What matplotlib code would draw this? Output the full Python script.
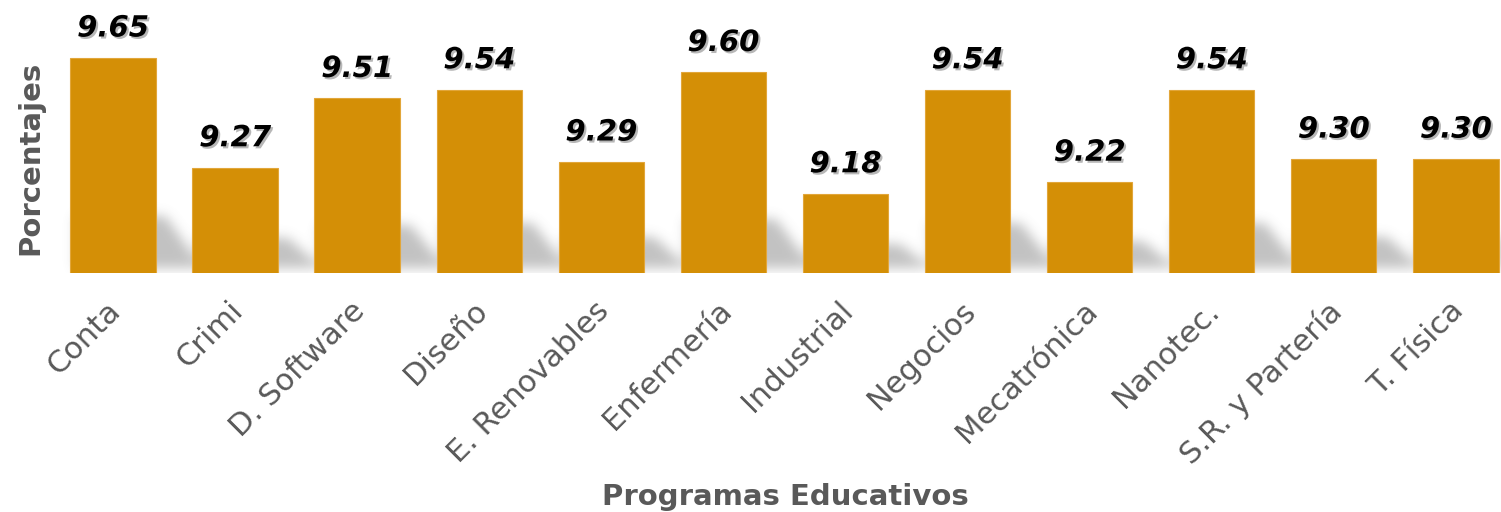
import numpy as np
import matplotlib
matplotlib.use("Agg")
import matplotlib.pyplot as plt
import matplotlib.patheffects as pe
import matplotlib.transforms as mtransforms

# data
programas = ["Conta", "Crimi", "D. Software", "Diseño", "E. Renovables", "Enfermería",
             "Industrial", "Negocios", "Mecatrónica", "Nanotec.", "S.R. y Partería", "T. Física"]
valores = [9.65, 9.27, 9.51, 9.54, 9.29, 9.60, 9.18, 9.54, 9.22, 9.54, 9.30, 9.30]

BAR_COLOR = "#D48F06"
GREY = "#595959"

W_PX, H_PX, DPI = 1501, 512, 100
fig = plt.figure(figsize=(W_PX / DPI, H_PX / DPI), dpi=DPI)

# axes placed in pixel terms
ax_left, ax_right, ax_top, ax_base = 52, 1501, 0, 273
ax = fig.add_axes([ax_left / W_PX, (H_PX - ax_base) / H_PX,
                   (ax_right - ax_left) / W_PX, (ax_base - ax_top) / H_PX])

x = np.arange(len(programas))
xlim = (-0.5, 11.37)
ylim = (8.905, 9.85)
bar_w = 0.70

# soft perspective shadow behind each bar
aw, ah = ax_right - ax_left, ax_base - ax_top
alpha = np.zeros((ah, aw))
px_per_x = aw / (xlim[1] - xlim[0])
px_per_y = ah / (ylim[1] - ylim[0])
for xi, v in zip(x, valores):
    left = (xi - bar_w / 2 - xlim[0]) * px_per_x
    right = (xi + bar_w / 2 - xlim[0]) * px_per_x
    bar_h = (v - ylim[0]) * px_per_y
    hs = 14 + 0.2 * bar_h
    for h in range(5, int(hs)):
        row = ah - 1 - h
        b = int(min(aw, right + 50 * (1 - 0.8 * h / hs)))
        alpha[row, int(left) + 6:b] = 1.0

def blur(arr, sigma):
    k = np.arange(-3 * sigma, 3 * sigma + 1)
    g = np.exp(-k ** 2 / (2 * sigma ** 2))
    g /= g.sum()
    out = np.array([np.convolve(r, g, mode="same") for r in arr])
    out = np.array([np.convolve(c, g, mode="same") for c in out.T]).T
    return out

alpha = blur(alpha, 6) * 0.4
img = np.zeros((ah, aw, 4))
img[..., :3] = 0.4
img[..., 3] = alpha
ax.imshow(img, extent=(xlim[0], xlim[1], ylim[0], ylim[1]), aspect="auto",
          zorder=1, interpolation="bilinear")

ax.bar(x, valores, width=bar_w, bottom=0, color=BAR_COLOR,
       edgecolor="#E2A63A", linewidth=0.8, zorder=2)

for xi, v in zip(x, valores):
    ax.annotate(f"{v:.2f}", (xi, v), xytext=(0, 11), textcoords="offset points",
                ha="center", va="bottom", fontsize=21, fontweight="bold",
                fontstyle="italic", color="black", zorder=3,
                path_effects=[pe.withSimplePatchShadow(offset=(1.5, -1.5),
                                                      shadow_rgbFace="#888888",
                                                      alpha=0.6)])

ax.set_xlim(*xlim)
ax.set_ylim(*ylim)
ax.set_xticks(x)
ax.set_xticklabels(programas, rotation=45, ha="right", rotation_mode="anchor",
                   fontsize=22, color=GREY)
ax.tick_params(axis="x", length=0, pad=15)
shift = mtransforms.ScaledTranslation(-0.07, -0.02, fig.dpi_scale_trans)
for lbl in ax.get_xticklabels():
    lbl.set_transform(lbl.get_transform() + shift)
ax.set_yticks([])
for s in ax.spines.values():
    s.set_visible(False)

fig.text(30 / W_PX, 1 - 158 / H_PX, "Porcentajes", rotation=90, ha="center",
         va="center", fontsize=21, fontweight="bold", color=GREY)
fig.text(785 / W_PX, 1 - 497 / H_PX, "Programas Educativos", ha="center",
         va="center", fontsize=21, fontweight="bold", color=GREY)

fig.savefig("out.png", dpi=DPI)
